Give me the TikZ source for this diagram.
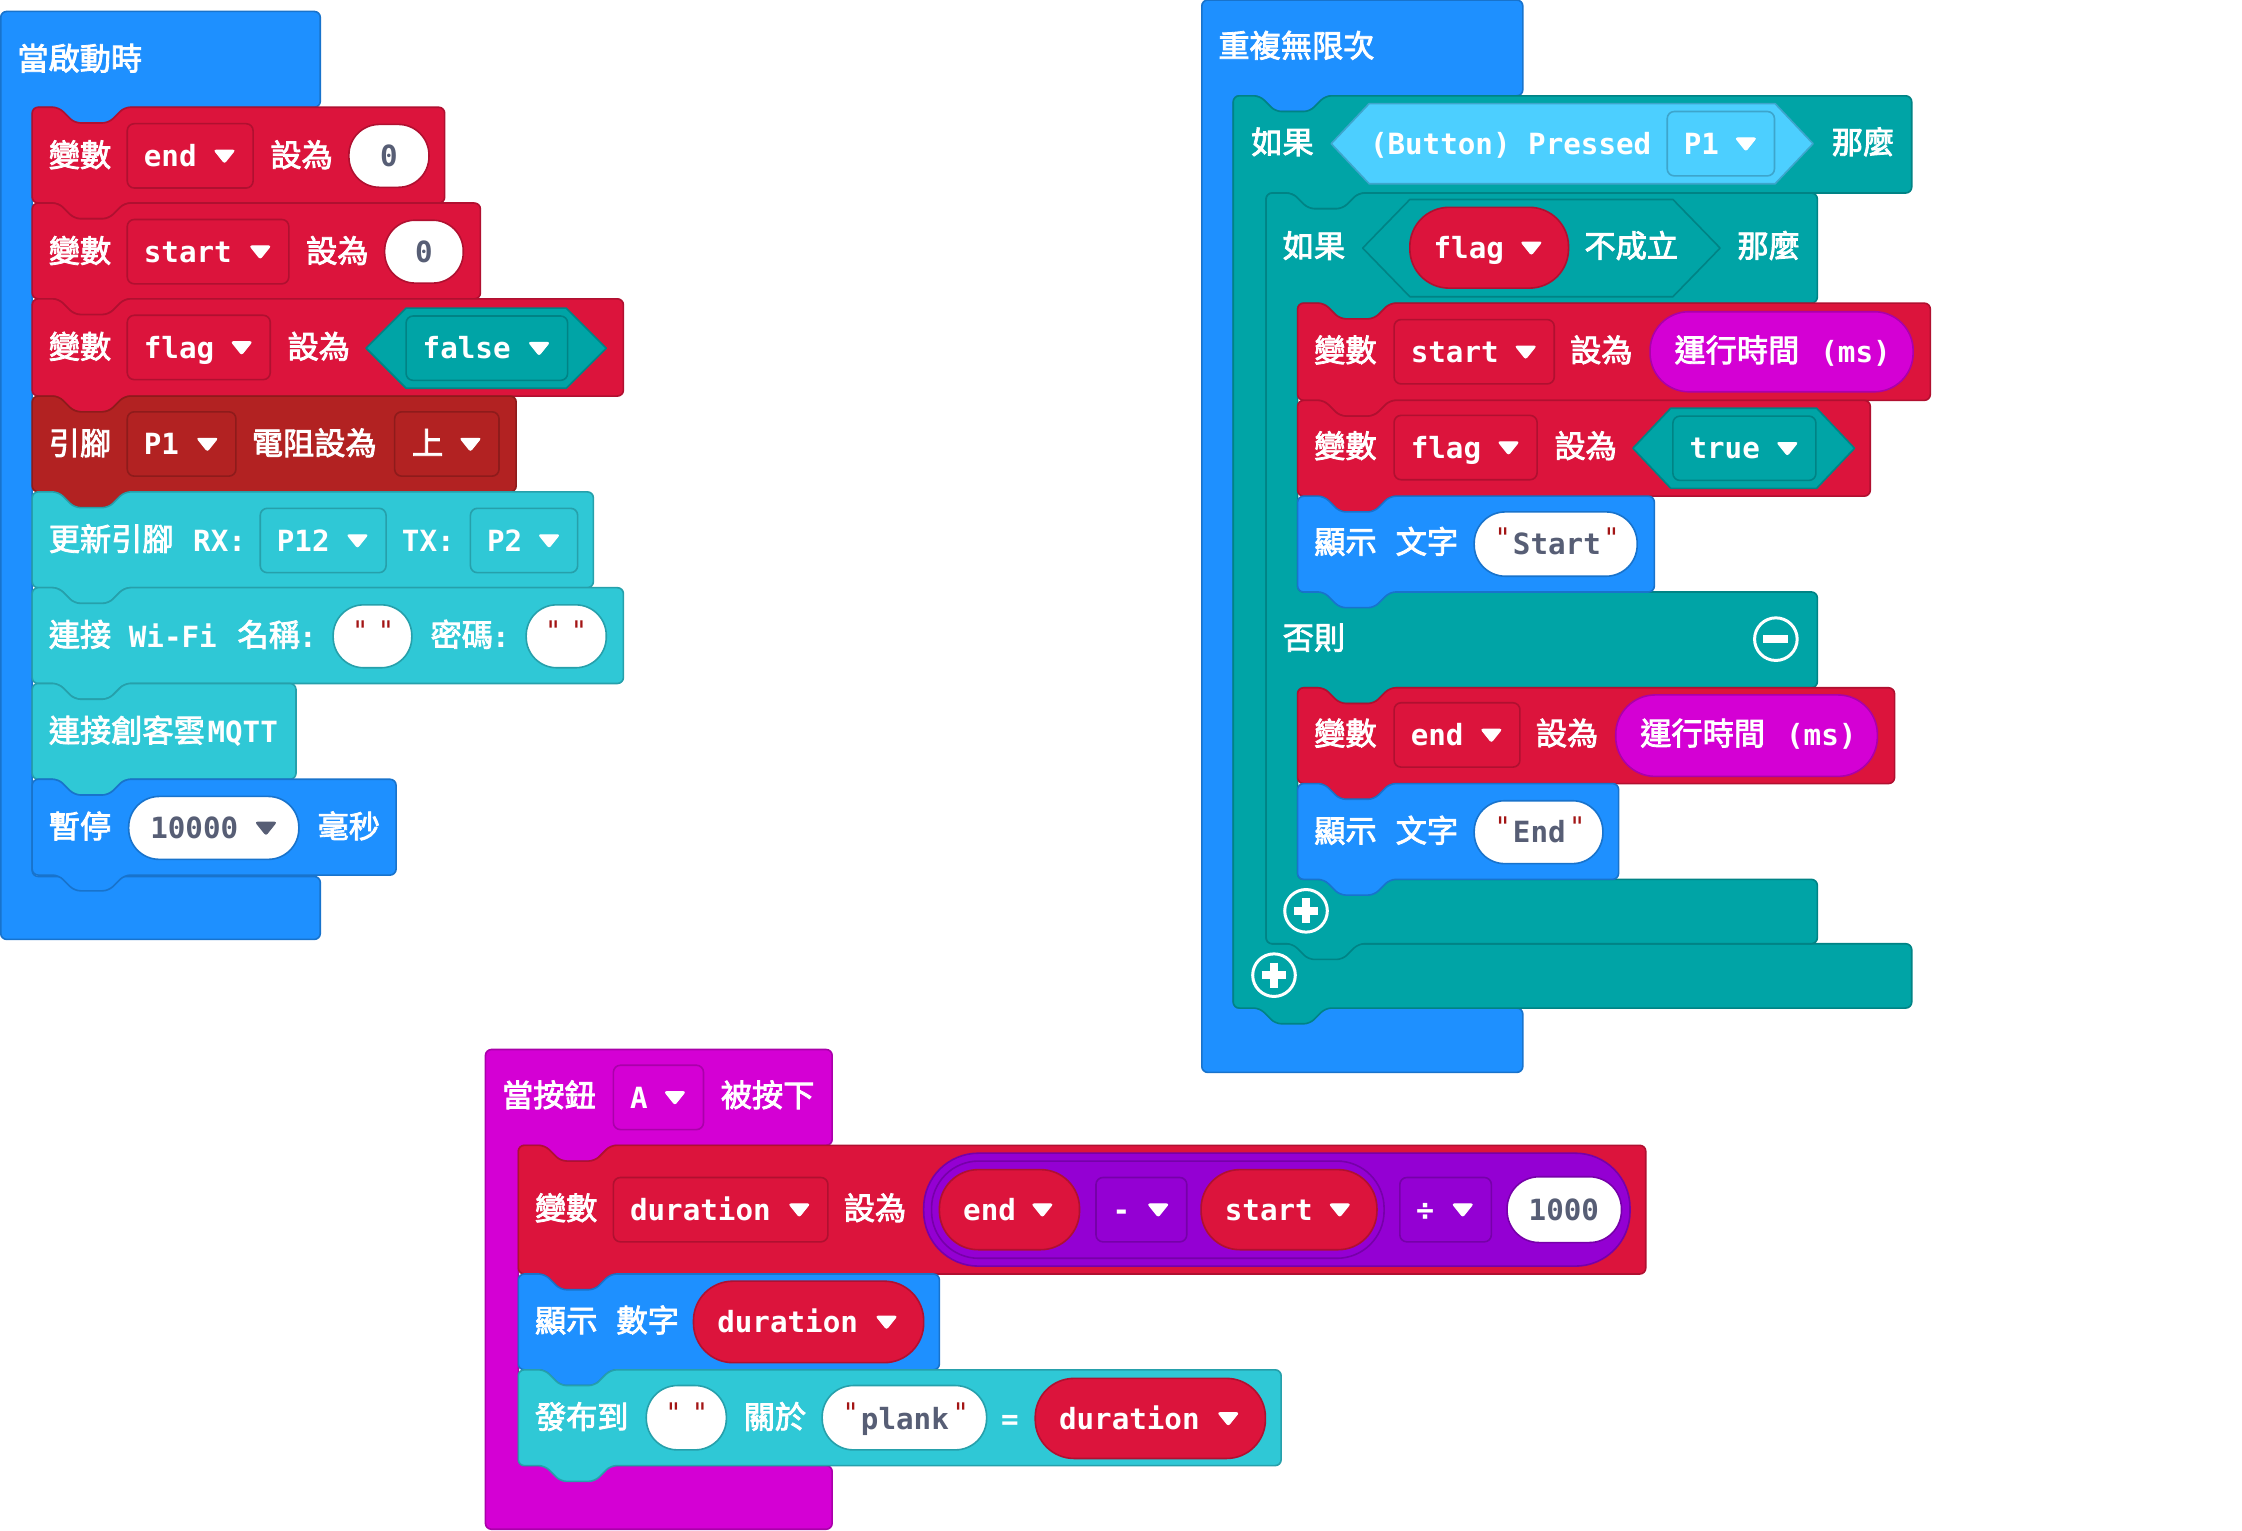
\documentclass[tikz,border=0pt]{standalone}
\usepackage{fontspec}
\newfontfamily\monoF{DejaVu Sans Mono}
\newfontfamily\monoQ{DejaVu Sans Mono}
\newfontfamily\cjkF[FakeBold=2.6]{Noto Sans CJK TC}
\definecolor{cBlue}{HTML}{1E90FF}\definecolor{cBlueD}{HTML}{1873CC}
\definecolor{cRed}{HTML}{DC143C}\definecolor{cRedD}{HTML}{B01030}
\definecolor{cPin}{HTML}{B22222}\definecolor{cPinD}{HTML}{8E1B1B}
\definecolor{cWifi}{HTML}{2FC8D6}\definecolor{cWifiD}{HTML}{26A0AB}
\definecolor{cLogic}{HTML}{00A4A6}\definecolor{cLogicD}{HTML}{008385}
\definecolor{cInput}{HTML}{D400D4}\definecolor{cInputD}{HTML}{AA00AA}
\definecolor{cMath}{HTML}{9400D3}\definecolor{cMathD}{HTML}{7600A9}
\definecolor{cSky}{HTML}{4CCFFF}\definecolor{cSkyD}{HTML}{3DA5CC}
\definecolor{cGrey}{HTML}{575E75}\definecolor{cQuote}{HTML}{A31515}
\tikzset{
  blue/.style={fill=cBlue,draw=cBlueD},
  red/.style={fill=cRed,draw=cRedD},
  pin/.style={fill=cPin,draw=cPinD},
  wifi/.style={fill=cWifi,draw=cWifiD},
  logic/.style={fill=cLogic,draw=cLogicD},
  input/.style={fill=cInput,draw=cInputD},
  math/.style={fill=cMath,draw=cMathD},
  sky/.style={fill=cSky,draw=cSkyD},
  wBlue/.style={fill=white,draw=cBlueD},
  wRed/.style={fill=white,draw=cRedD},
  wWifi/.style={fill=white,draw=cWifiD},
  wMath/.style={fill=white,draw=cMathD},
  shapeline/.style={line width=1.6pt,line join=round},
  blockshape/.style={shapeline,rounded corners=6pt},
  lab/.style={anchor=base west,inner sep=0pt,text=white},
  labc/.style={anchor=base,inner sep=0pt},
  ring/.style={white,line width=3pt,fill=cLogic},
  iconbar/.style={white,line width=8.5pt},
}
\newcount\nid
\newcommand\zfnt{\cjkF\fontsize{31.2}{32}\selectfont}
\newcommand\lfnt{\monoF\bfseries\fontsize{29.2}{32}\selectfont}
\newcommand\ztx[3]{\global\advance\nid by 1 \node[lab] (n\the\nid) at (#1,{#2+8}) {\zfnt #3};}
\newcommand\ltx[3]{\global\advance\nid by 1 \node[lab] (n\the\nid) at ({#1},{#2+7.5}) {\lfnt #3};}
\newcommand\gtx[3]{\global\advance\nid by 1 \node[lab,text=cGrey] (n\the\nid) at (#1,{#2+7.5}) {\lfnt #3};}
\newcommand\gcx[3]{\global\advance\nid by 1 \node[labc,text=cGrey] (n\the\nid) at (#1,{#2+7.5}) {\lfnt #3};}
\newcommand\qtx[2]{\global\advance\nid by 1 \node[labc,text=cQuote] (n\the\nid) at (#1,{#2+3}) {\monoQ\fontsize{27}{28}\selectfont "};}
% arrow: x, cy, colour
\newcommand\arrowd[3]{\fill[#3,draw=#3,line width=1pt,rounded corners=2pt] ({#1-7.2},{#2-4}) -- ({#1+7.2},{#2-4}) -- ({#1},{#2+5}) -- cycle;}
% dropdown: x1,x2,cy,style,text
\newcommand\ddn[5]{\draw[#4,shapeline,rounded corners=7pt] (#1,{#3-22.5}) rectangle (#2,{#3+22.5}); \ltx{#1+11.5}{#3}{#5} \arrowd{#2-20}{#3}{white}}
% pill: x1,x2,y1,y2,style
\newcommand\pill[5]{\pgfmathsetmacro\rr{(#4-#3)/2*1.4298*0.97}\draw[#5,shapeline,rounded corners=\rr pt] (#1,#3) rectangle (#2,#4);}
% pill with text + arrow: x1,x2,y1,y2,style,text
\newcommand\vpill[6]{\pill{#1}{#2}{#3}{#4}{#5}\ltx{#1+16.5}{(#3+#4)/2}{#6}\arrowd{#2-26}{(#3+#4)/2}{white}}
% hexagon: x1,x2,cy,h,slant,style
\newcommand\hexa[6]{\draw[#6,shapeline] (#1,#3) -- ({#1+#5},{#3-#4}) -- ({#2-#5},{#3-#4}) -- (#2,#3) -- ({#2-#5},{#3+#4}) -- ({#1+#5},{#3+#4}) -- cycle;}
% tab going leftwards on bottom edge: ax, y
\newcommand\tabL[2]{-- ({#1+65},#2) -- ({#1+54},{#2+11}) -- ({#1+30},{#2+11}) -- ({#1+19},#2)}
% statement block: x1,x2,y1,y2,style
\newcommand\stm[5]{\draw[#5,blockshape] ({#1+.5},#3) -- ({#1+19},#3) -- ({#1+30},{#3+11}) -- ({#1+54},{#3+11}) -- ({#1+65},#3) -- (#2,#3) -- (#2,#4) \tabL{#1}{#4} -- ({#1+.5},#4) -- cycle;}
% hat: x1,x2,ytop,yhead,ylow,ybot,style
\newcommand\hatblk[7]{\draw[#7,blockshape] ({#1+.5},#3) -- (#2,#3) -- (#2,#4) \tabL{#1+22}{#4} -- ({#1+22.5},#4) -- ({#1+22.5},#5) -- (#2,#5) -- (#2,#6) -- ({#1+.5},#6) -- cycle;}
\begin{document}
\begin{tikzpicture}[x=1.4298pt,y=-1.4298pt]
\useasboundingbox (0,0) rectangle (1568,1070.1);
%%%%%%%%%%% group A
\hatblk{0}{224}{8}{75}{613}{657}{blue}
\ztx{12}{41}{當啟動時}
\stm{22}{311}{75}{142}{red}
\ztx{34}{108.5}{變數}\ddn{89}{177}{109}{red}{end}\ztx{189}{108.5}{設為}
\pill{244}{300}{87}{131}{wRed}\gcx{272}{109}{0}
\stm{22}{336}{142}{209}{red}
\ztx{34}{175.5}{變數}\ddn{89}{202}{176}{red}{start}\ztx{214}{175.5}{設為}
\pill{269}{324}{154}{198}{wRed}\gcx{296.5}{176}{0}
\stm{22}{436}{209}{277}{red}
\ztx{34}{242.5}{變數}\ddn{89}{189}{243}{red}{flag}\ztx{201}{242.5}{設為}
\hexa{256}{424}{243.5}{28}{28}{logic}\ddn{284}{397}{243.5}{logic}{false}
\stm{22}{361}{277}{344}{pin}
\ztx{34}{310}{引腳}\ddn{89}{165}{310.5}{pin}{P1}\ztx{176}{310}{電阻設為}
\draw[pin,shapeline,rounded corners=7pt] (276,288) rectangle (349,333);
\ztx{288}{310}{上}\arrowd{329}{310.5}{white}
\stm{22}{415}{344}{411}{wifi}
\ztx{34}{377}{更新引腳}\ltx{135}{378}{RX:}\ddn{182}{270}{378}{wifi}{P12}\ltx{281}{378}{TX:}\ddn{329}{404}{378}{wifi}{P2}
\stm{22}{436}{411}{478}{wifi}
\ztx{34}{444}{連接}\ltx{90}{445}{Wi-Fi}\ztx{166}{444}{名稱}\ltx{209}{445}{:}
\pill{233}{288}{423}{467}{wWifi}\qtx{252}{445}\qtx{270}{445}
\ztx{301}{444}{密碼}\ltx{344}{445}{:}
\pill{368}{424}{423}{467}{wWifi}\qtx{387}{445}\qtx{405}{445}
\stm{22}{207}{478}{545}{wifi}
\ztx{34}{511}{連接創客雲}\ltx{145}{512}{MQTT}
\stm{22}{277}{545}{612}{blue}
\ztx{34}{578}{暫停}
\pill{90}{209}{557}{601}{wBlue}\gtx{105}{579}{10000}\arrowd{186}{579}{cGrey}
\ztx{222}{578}{毫秒}
%%%%%%%%%%% group B
\hatblk{840}{1065}{0}{67}{705}{750}{blue}
\ztx{852}{32}{重複無限次}
% outer if
\draw[logic,blockshape] (862.5,67) -- (881,67) -- (892,78) -- (916,78) -- (927,67) -- (1337,67) -- (1337,135) \tabL{885}{135} -- (885.5,135) -- (885.5,660) -- (1337,660) -- (1337,705) \tabL{862}{705} -- (862.5,705) -- cycle;
\ztx{875}{99.5}{如果}
\hexa{931}{1268}{100.5}{28}{26.5}{sky}
\ltx{958}{100.5}{(Button) Pressed}\ddn{1166}{1241}{100.5}{sky}{P1}
\ztx{1281}{99.5}{那麼}
% inner if
\draw[logic,blockshape] (885.5,135) -- (904,135) -- (915,146) -- (939,146) -- (950,135) -- (1271,135) -- (1271,212) \tabL{907}{212} -- (907.5,212) -- (907.5,414) -- (1271,414) -- (1271,481) \tabL{907}{481} -- (907.5,481) -- (907.5,615) -- (1271,615) -- (1271,660) \tabL{885}{660} -- (885.5,660) -- cycle;
\ztx{897}{172}{如果}
\hexa{953}{1203}{173.5}{34}{33}{logic}
\vpill{986}{1097}{145}{201.5}{red}{flag}
\ztx{1108}{172}{不成立}\ztx{1215}{172}{那麼}
\stm{907}{1350}{212}{280}{red}
\ztx{919}{245}{變數}\ddn{975}{1087}{246}{red}{start}\ztx{1098}{245}{設為}
\pill{1154}{1338}{218}{274}{input}\ztx{1171}{245}{運行時間}\ltx{1273}{246}{(ms)}
\stm{907}{1308}{280}{347}{red}
\ztx{919}{312}{變數}\ddn{975}{1075}{313}{red}{flag}\ztx{1087}{312}{設為}
\hexa{1142}{1297}{313.5}{28}{26.5}{logic}\ddn{1170}{1270}{313.5}{logic}{true}
\stm{907}{1157}{347}{414}{blue}
\ztx{919}{379}{顯示}\ztx{976}{379}{文字}
\pill{1031}{1145}{358}{403}{wBlue}\qtx{1051}{380}\gtx{1058}{380}{Start}\qtx{1127}{380}
\ztx{897}{446}{否則}
\draw[ring] (1242,447) circle[radius=14.9];
\draw[iconbar] (1233.3,447) -- (1250.7,447);
\stm{907}{1325}{481}{548}{red}
\ztx{919}{513}{變數}\ddn{975}{1063}{514}{red}{end}\ztx{1074}{513}{設為}
\pill{1130}{1313}{486}{543}{input}\ztx{1147}{513}{運行時間}\ltx{1249}{514}{(ms)}
\stm{907}{1132}{548}{615}{blue}
\ztx{919}{581}{顯示}\ztx{976}{581}{文字}
\pill{1031}{1121}{560}{604}{wBlue}\qtx{1051}{582}\gtx{1058}{582}{End}\qtx{1103}{582}
\draw[ring] (913.4,637) circle[radius=14.9];
\draw[iconbar] (904.7,637) -- (922.1,637) (913.4,628.3) -- (913.4,645.7);
\draw[ring] (891,682) circle[radius=14.9];
\draw[iconbar] (882.3,682) -- (899.7,682) (891,673.3) -- (891,690.7);
%%%%%%%%%%% group C
\draw[input,blockshape] (339.5,734) -- (582,734) -- (582,801) \tabL{362}{801} -- (362.5,801) -- (362.5,1025) -- (582,1025) -- (582,1069.5) -- (339.5,1069.5) -- cycle;
\ztx{351}{766}{當按鈕}\ddn{429}{492}{767.5}{input}{A}\ztx{504}{766}{被按下}
\stm{362}{1151}{801}{891}{red}
\ztx{374}{845}{變數}\ddn{429}{579}{846}{red}{duration}\ztx{590}{845}{設為}
\pill{646}{1140}{806.5}{885.5}{math}
\pill{651.5}{968}{812}{880}{math}
\vpill{657}{755}{818}{874}{red}{end}
\ddn{766.5}{830}{846}{math}{-}
\vpill{840}{963}{818}{874}{red}{start}
\ddn{979}{1043}{846}{math}{÷}
\pill{1054}{1134}{823}{869}{wMath}\gtx{1069}{846}{1000}
\stm{362}{657}{891}{958}{blue}
\ztx{374}{923.5}{顯示}\ztx{431}{923.5}{數字}
\vpill{485}{646}{896}{953}{red}{duration}
\stm{362}{896}{958}{1025}{wifi}
\ztx{374}{991}{發布到}
\pill{452}{508}{969}{1014}{wWifi}\qtx{471}{992}\qtx{489.5}{992}
\ztx{520}{991}{關於}
\pill{575}{690}{969}{1014}{wWifi}\qtx{595}{992}\gtx{602}{992}{plank}\qtx{672}{992}
\ltx{700}{992}{=}
\vpill{724}{885}{964}{1020}{red}{duration}
\end{tikzpicture}
\end{document}
